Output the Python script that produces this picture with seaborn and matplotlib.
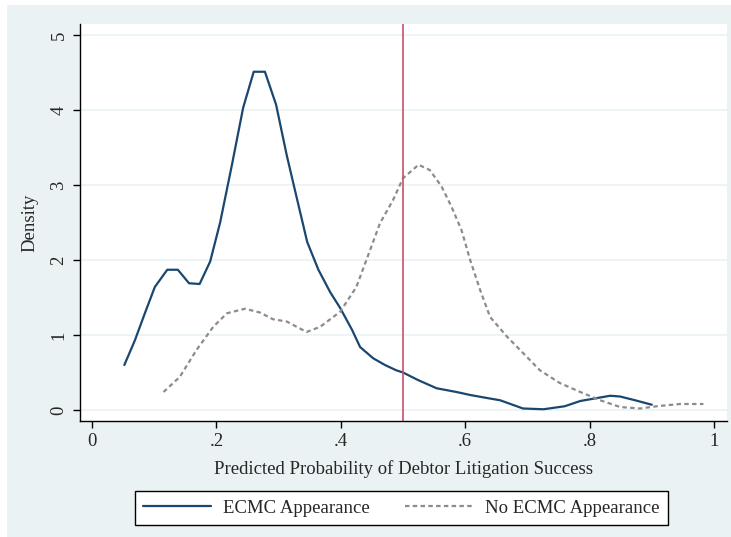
import numpy as np
import pandas as pd
import seaborn as sns
import matplotlib.pyplot as plt
from matplotlib.patches import Rectangle
from matplotlib.ticker import FuncFormatter

# density curves
ecmc_x = [0.052, 0.069, 0.085, 0.101, 0.121, 0.138, 0.156, 0.173, 0.190, 0.206,
          0.225, 0.243, 0.260, 0.278, 0.296, 0.313, 0.330, 0.346, 0.364, 0.383,
          0.399, 0.418, 0.431, 0.452, 0.471, 0.489, 0.500, 0.524, 0.554, 0.586,
          0.608, 0.635, 0.656, 0.693, 0.726, 0.760, 0.785, 0.833, 0.849, 0.873, 0.900]
ecmc_y = [0.60, 0.93, 1.29, 1.64, 1.87, 1.87, 1.69, 1.68, 1.98, 2.50,
          3.27, 4.03, 4.51, 4.51, 4.07, 3.40, 2.80, 2.24, 1.87, 1.57,
          1.36, 1.07, 0.84, 0.69, 0.60, 0.53, 0.50, 0.40, 0.29, 0.24,
          0.20, 0.16, 0.13, 0.02, 0.01, 0.05, 0.12, 0.19, 0.18, 0.13, 0.07]

no_ecmc_x = [0.115, 0.141, 0.168, 0.195, 0.217, 0.246, 0.270, 0.291, 0.313, 0.345,
             0.367, 0.399, 0.425, 0.447, 0.463, 0.484, 0.500, 0.525, 0.543, 0.562,
             0.578, 0.594, 0.608, 0.624, 0.640, 0.667, 0.693, 0.720, 0.752, 0.785,
             0.817, 0.849, 0.881, 0.908, 0.945, 0.983]
no_ecmc_y = [0.24, 0.44, 0.80, 1.11, 1.29, 1.35, 1.30, 1.21, 1.18, 1.04,
             1.11, 1.31, 1.64, 2.13, 2.49, 2.80, 3.09, 3.27, 3.20, 2.98,
             2.71, 2.40, 2.00, 1.60, 1.24, 0.98, 0.76, 0.53, 0.36, 0.24,
             0.13, 0.04, 0.02, 0.05, 0.08, 0.08]

x_ticks = [0, 0.2, 0.4, 0.6, 0.8, 1]
y_ticks = [0, 1, 2, 3, 4, 5]
cutoff = 0.5

df = pd.concat([
    pd.DataFrame({'x': ecmc_x, 'y': ecmc_y, 'group': 'ECMC Appearance'}),
    pd.DataFrame({'x': no_ecmc_x, 'y': no_ecmc_y, 'group': 'No ECMC Appearance'}),
])

sns.set_style("white")
plt.rcParams['font.family'] = ['Liberation Serif', 'DejaVu Serif']
fs = 13.5

bg = '#EAF2F3'
fig = plt.figure(figsize=(7.31, 5.37), dpi=100)
fig.patch.set_facecolor('white')
fig.patches.append(Rectangle((7 / 731, 0), 1, 1 - 5 / 537, transform=fig.transFigure,
                             facecolor=bg, edgecolor='none', zorder=-10))

ax = fig.add_axes([80 / 731, 1 - 421 / 537, (727 - 80) / 731, (421 - 24) / 537])
ax.set_facecolor('white')

sns.lineplot(data=df, x='x', y='y', hue='group', style='group',
             palette={'ECMC Appearance': '#1A476F', 'No ECMC Appearance': '#8C8C8C'},
             dashes={'ECMC Appearance': '', 'No ECMC Appearance': (2, 1.5)},
             linewidth=1.6, sort=False, estimator=None, ax=ax, legend=True)
ax.axvline(cutoff, color='#C8506A', linewidth=1.2)

ax.set_xlim((80 - 92) / 622, (727 - 92) / 622)
ax.set_ylim((410 - 421) / 75, (410 - 24) / 75)
ax.set_xticks(x_ticks)
ax.set_yticks(y_ticks)
ax.xaxis.set_major_formatter(FuncFormatter(lambda v, _: '0' if v == 0 else ('1' if v == 1 else f'{v:.1f}'.lstrip('0'))))
ax.grid(axis='y', color=bg, linewidth=1.2)
ax.set_axisbelow(True)

for side in ['top', 'right']:
    ax.spines[side].set_visible(False)
for side in ['left', 'bottom']:
    ax.spines[side].set_color('black')
    ax.spines[side].set_linewidth(1)

ax.tick_params(axis='both', direction='out', length=5, width=1, color='black',
               labelsize=fs, bottom=True, left=True, pad=4)
for lab in ax.get_yticklabels():
    lab.set_rotation(90)
    lab.set_va('center')

ax.set_xlabel('Predicted Probability of Debtor Litigation Success', fontsize=fs, labelpad=7)
ax.set_ylabel('Density', fontsize=fs, labelpad=9)

handles, labels = ax.get_legend_handles_labels()
ax.get_legend().remove()
leg = fig.legend(handles, labels, loc='center', bbox_to_anchor=(401.5 / 731, 1 - 508 / 537),
                 ncol=2, frameon=True, fancybox=False, edgecolor='black', framealpha=1,
                 fontsize=fs, handlelength=3.6, handletextpad=0.65, columnspacing=1.9,
                 borderpad=0.45)
leg.get_frame().set_linewidth(1)

fig.savefig('out.png', dpi=100, facecolor=fig.get_facecolor())
